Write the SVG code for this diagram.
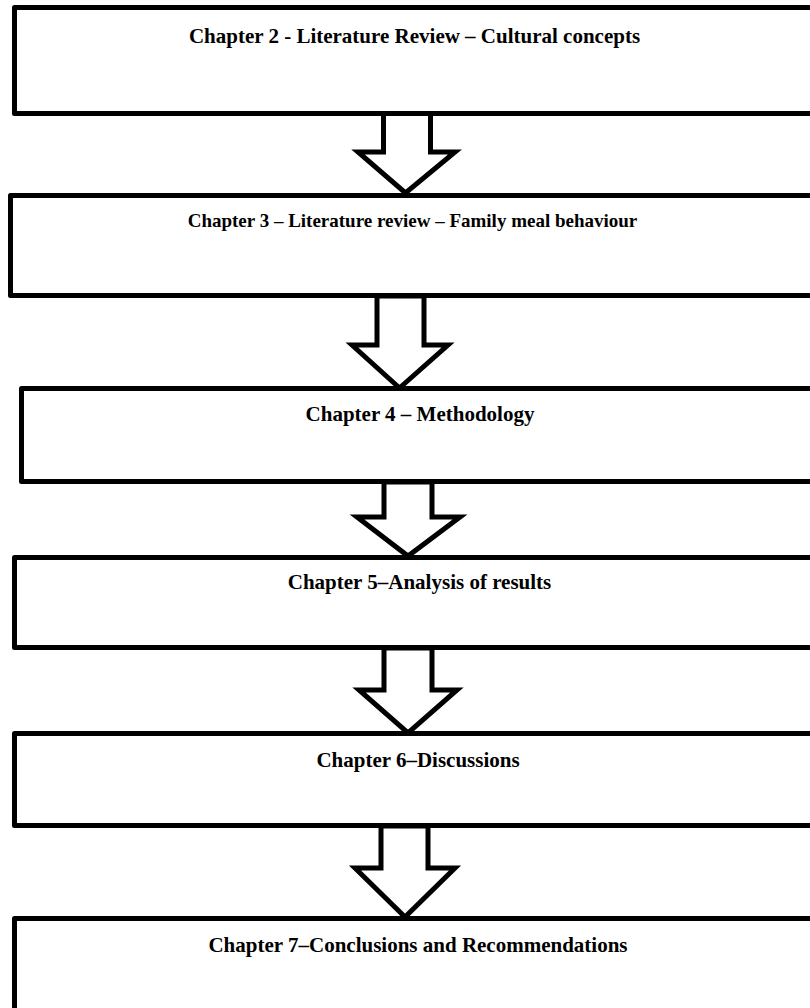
<svg xmlns="http://www.w3.org/2000/svg" width="810" height="1008" viewBox="0 0 810 1008">
  <style>
    .box { fill: #ffffff; stroke: #000000; stroke-width: 5; stroke-linejoin: round; }
    .arrow { fill: #ffffff; stroke: #000000; stroke-width: 5; stroke-linejoin: miter; }
    .label { font-family: "Liberation Serif", "Times New Roman", serif; font-weight: bold; font-size: 21px; fill: #000000; text-anchor: middle; }
    .small { font-size: 19px; }
  </style>
  <rect width="810" height="1008" fill="#ffffff"/>

  <!-- block arrows between chapters -->
  <g id="connectors">
    <polygon class="arrow" points="383.5,113 430.5,113 430.5,152 455,152 405.5,193 358,152 383.5,152"/>
    <polygon class="arrow" points="377,296 424,296 424,345 448,345 399.5,388 352,345 377,345"/>
    <polygon class="arrow" points="384,482 432,482 432,517 460,517 408,556 357,517 384,517"/>
    <polygon class="arrow" points="384,648 432,648 432,690 457,690 408,733 359,690 384,690"/>
    <polygon class="arrow" points="381,826 428,826 428,868 455,868 405,917 355,868 381,868"/>
  </g>

  <g id="chapter2">
    <rect class="box" x="14.5" y="7.5" width="800" height="106"/>
    <text class="label" x="414.5" y="43">Chapter 2 - Literature Review – Cultural concepts</text>
  </g>
  <g id="chapter3">
    <rect class="box" x="10.5" y="195.5" width="804" height="100"/>
    <text class="label small" x="412.5" y="227">Chapter 3 – Literature review – Family meal behaviour</text>
  </g>
  <g id="chapter4">
    <rect class="box" x="21.5" y="388.5" width="793" height="93"/>
    <text class="label" x="420" y="421">Chapter 4 – Methodology</text>
  </g>
  <g id="chapter5">
    <rect class="box" x="14.5" y="557.5" width="800" height="90"/>
    <text class="label" x="419.5" y="589">Chapter 5–Analysis of results</text>
  </g>
  <g id="chapter6">
    <rect class="box" x="14.5" y="733.5" width="800" height="92"/>
    <text class="label" x="418" y="767">Chapter 6–Discussions</text>
  </g>
  <g id="chapter7">
    <rect class="box" x="14.5" y="918.5" width="800" height="95"/>
    <text class="label" x="418" y="952">Chapter 7–Conclusions and Recommendations</text>
  </g>
</svg>
